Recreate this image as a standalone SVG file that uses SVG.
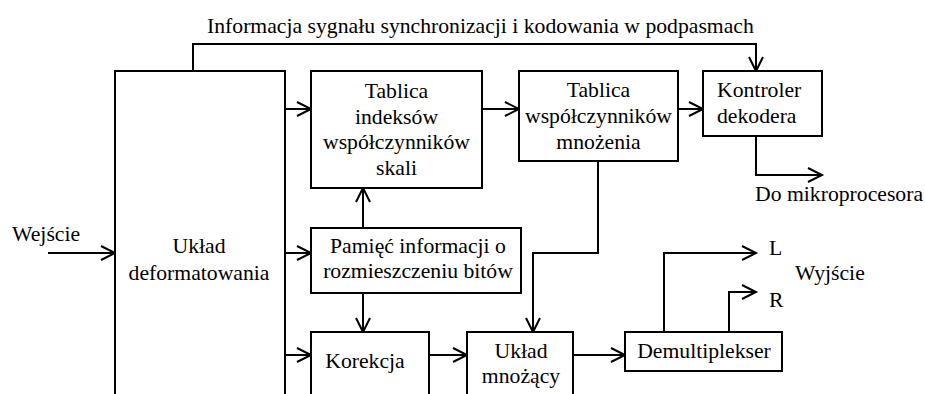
<svg xmlns="http://www.w3.org/2000/svg" width="925" height="394" viewBox="0 0 925 394">
<defs>
<style>
.box{fill:#fff;stroke:#000;stroke-width:2}
.ln{fill:none;stroke:#000;stroke-width:2;marker-end:url(#arr)}
.c{text-anchor:middle}
</style>
<marker id="arr" markerUnits="userSpaceOnUse" markerWidth="18" markerHeight="18" refX="15" refY="8" orient="auto" viewBox="0 0 18 18">
<path d="M1,1 L15,8 L1,15" fill="none" stroke="#000" stroke-width="2"/>
</marker>
</defs>
<rect width="925" height="394" fill="#fff"/>
<g id="connectors">
<path class="ln" d="M48,253 H115"/>
<path class="ln" d="M285,109 H311"/>
<path class="ln" d="M285,253 H311"/>
<path class="ln" d="M285,355 H311"/>
<path class="ln" d="M482,109 H519"/>
<path class="ln" d="M678,109 H703"/>
<path class="ln" d="M193,71 V44 H756 V71"/>
<path class="ln" d="M756,136 V175 H822"/>
<path class="ln" d="M363,228 V188"/>
<path class="ln" d="M363,293 V332"/>
<path class="ln" d="M429,355 H467"/>
<path class="ln" d="M598,161 V253 H533 V332"/>
<path class="ln" d="M573,355 H625"/>
<path class="ln" d="M664,332 V253 H756"/>
<path class="ln" d="M729,332 V292 H756"/>
</g>
<g font-family="'Liberation Serif', 'Times New Roman', serif" font-size="21.7" fill="#000">
<g id="top-label"><text x="207" y="32.5">Informacja sygnału synchronizacji i kodowania w podpasmach</text></g>
<g id="wejscie"><text x="12" y="241">Wejście</text></g>
<g id="deformat">
<rect class="box" x="115" y="71" width="170" height="340"/>
<text class="c" x="199" y="253">Układ</text>
<text class="c" x="199" y="280">deformatowania</text>
</g>
<g id="tablica-indeksow">
<rect class="box" x="311" y="71" width="171" height="117"/>
<text class="c" x="396.5" y="98">Tablica</text>
<text class="c" x="396.5" y="124">indeksów</text>
<text class="c" x="396.5" y="149">współczynników</text>
<text class="c" x="396.5" y="175">skali</text>
</g>
<g id="tablica-mnozenia">
<rect class="box" x="519" y="71" width="159" height="90"/>
<text class="c" x="598.5" y="97">Tablica</text>
<text class="c" x="598.5" y="123">współczynników</text>
<text class="c" x="598.5" y="149">mnożenia</text>
</g>
<g id="kontroler">
<rect class="box" x="703" y="71" width="119" height="65"/>
<text x="717" y="97">Kontroler</text>
<text x="717" y="123">dekodera</text>
</g>
<g id="do-mikro"><text x="755" y="201">Do mikroprocesora</text></g>
<g id="pamiec">
<rect class="box" x="311" y="228" width="210" height="65"/>
<text class="c" x="418" y="253">Pamięć informacji o</text>
<text class="c" x="418" y="278">rozmieszczeniu bitów</text>
</g>
<g id="korekcja">
<rect class="box" x="311" y="332" width="118" height="80"/>
<text class="c" x="365" y="368">Korekcja</text>
</g>
<g id="uklad-mnozacy">
<rect class="box" x="467" y="332" width="106" height="80"/>
<text class="c" x="521" y="358">Układ</text>
<text class="c" x="521" y="383">mnożący</text>
</g>
<g id="demux">
<rect class="box" x="625" y="332" width="157" height="39"/>
<text class="c" x="704" y="358">Demultiplekser</text>
</g>
<g id="outputs">
<text x="769" y="255">L</text>
<text x="795" y="280">Wyjście</text>
<text x="769" y="307">R</text>
</g>
</g>
</svg>
